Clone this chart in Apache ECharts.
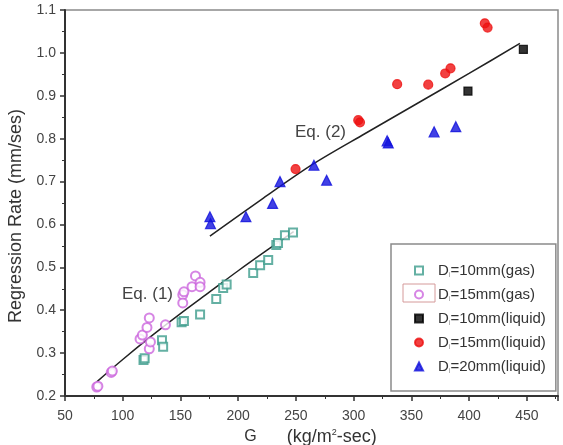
<!DOCTYPE html>
<html>
<head>
<meta charset="utf-8">
<script src="https://cdn.jsdelivr.net/npm/echarts@6/dist/echarts.min.js"></script>
<style>
html, body { margin: 0; padding: 0; background: #fff; }
#chart { width: 563px; height: 445px; }
</style>
</head>
<body>
<div id="chart"></div>
<script>
// readings taken off the figure: [G, regression rate]
var gas10 = [[118, 0.284], [119, 0.288], [134, 0.33], [135, 0.315], [151, 0.372], [153, 0.375],
    [167, 0.39], [181, 0.426], [187, 0.452], [190, 0.46], [213, 0.487], [219, 0.505], [226, 0.517],
    [233, 0.552], [234.5, 0.557], [240.5, 0.575], [247.5, 0.581]]
var gas15 = [[77.5, 0.221], [78.5, 0.223], [90, 0.255], [91, 0.258], [115, 0.333], [117, 0.342],
    [121, 0.36], [123, 0.382], [123, 0.31], [124, 0.326], [137, 0.366], [152, 0.436], [152, 0.417],
    [153, 0.443], [160, 0.455], [163, 0.48], [167, 0.465], [167, 0.455]]
var liq10 = [[399, 0.911], [447, 1.008]]
var liq15 = [[249.7, 0.729], [304, 0.843], [305.5, 0.838], [337.7, 0.927], [364.6, 0.926],
    [379.3, 0.952], [383.9, 0.964], [413.6, 1.069], [416, 1.059]]
var liq20 = [[175.5, 0.618], [176, 0.602], [206.7, 0.618], [229.8, 0.649], [236.2, 0.70],
    [265.6, 0.738], [276.6, 0.703], [329, 0.795], [330, 0.79], [369.7, 0.816], [388.5, 0.828]]
// fitted curves Eq. (1) and Eq. (2)
var eq1 = [[77.5, 0.233], [100, 0.285], [125, 0.34], [150, 0.392], [175, 0.442], [200, 0.492], [225, 0.54], [248, 0.583]]
var eq2 = [[175.5, 0.573], [220, 0.658], [265, 0.741], [310, 0.812], [355, 0.882], [400, 0.952], [444, 1.022]]
var legendNames = ['10mm(gas)', '15mm(gas)', '10mm(liquid)', '15mm(liquid)', '20mm(liquid)']

var chart = echarts.init(document.getElementById('chart'))
var font = 'Liberation Sans, Arial, sans-serif'

function scatter(name, data, symbol, size, color) {
    return {
        name: name, type: 'scatter', data: data,
        symbol: symbol, symbolSize: size,
        itemStyle: { color: color, borderColor: color, borderWidth: 1.2 },
        z: 3
    }
}
function fitLine(data) {
    return {
        type: 'line', data: data, smooth: 0.3, symbol: 'none',
        lineStyle: { color: '#222', width: 1.5 }, z: 2, silent: true
    }
}

chart.setOption({
    animation: false,
    textStyle: { fontFamily: font },
    grid: {
        left: 65, top: 10, right: 5, bottom: 49, outerBoundsMode: 'none',
        show: true, borderColor: '#8a8a8a', borderWidth: 1.5
    },
    xAxis: {
        type: 'value', min: 50, max: 477, interval: 50,
        name: '{g|G}{sub| }{u|(kg/m}{sup|2}{u|-sec)}',
        nameLocation: 'middle', nameGap: 30,
        nameTextStyle: {
            rich: {
                g: { fontSize: 16, color: '#333', fontFamily: font },
                sub: { fontSize: 9, width: 30 },
                u: { fontSize: 18, color: '#333', fontFamily: font },
                sup: { fontSize: 9, color: '#333', padding: [0, 0, 9, 0] }
            },
            padding: [0, 2, 0, 0]
        },
        axisLine: { lineStyle: { color: '#333', width: 2 } },
        axisTick: { inside: false, length: 5, lineStyle: { color: '#333', width: 1.5 } },
        minorTick: { show: true, splitNumber: 2, length: 3, lineStyle: { color: '#333' } },
        splitLine: { show: false },
        axisLabel: { color: '#444', fontSize: 14, margin: 13, showMaxLabel: false }
    },
    yAxis: {
        type: 'value', min: 0.2, max: 1.1, interval: 0.1,
        name: 'Regression Rate (mm/ses)',
        nameLocation: 'middle', nameGap: 40,
        nameTextStyle: { fontSize: 18, color: '#333', padding: [0, 26, 0, 0] },
        axisLine: { lineStyle: { color: '#333', width: 2 } },
        axisTick: { inside: false, length: 5, lineStyle: { color: '#333', width: 1.5 } },
        minorTick: { show: true, splitNumber: 2, length: 3, lineStyle: { color: '#333' } },
        splitLine: { show: false },
        axisLabel: {
            color: '#444', fontSize: 14, margin: 9,
            formatter: function (v) { return v.toFixed(1) }
        }
    },
    legend: {
        orient: 'vertical', left: 391, top: 244,
        padding: [19, 10, 16, 23],
        borderColor: '#8a8a8a', borderWidth: 1.5,
        itemWidth: 8, itemHeight: 8, itemGap: 8,
        data: legendNames,
        formatter: function (n) { return '{a|D}{s|i}{a|=' + n + '}' },
        textStyle: {
            padding: [0, 0, 0, 10],
            rich: {
                a: { fontSize: 15, color: '#333', fontFamily: font },
                s: { fontSize: 7, color: '#888', padding: [10, 0, 0, 0] }
            }
        }
    },
    graphic: [
        { type: 'rect', shape: { x: 403, y: 284, width: 32, height: 18 },
          style: { fill: 'none', stroke: '#d59a9a', lineWidth: 1 } },
        { type: 'text', x: 122, y: 286, style: { text: 'Eq. (1)', fontSize: 17, fill: '#444', fontFamily: font } },
        { type: 'text', x: 295, y: 124, style: { text: 'Eq. (2)', fontSize: 17, fill: '#444', fontFamily: font } }
    ],
    series: [
        fitLine(eq1),
        fitLine(eq2),
        scatter(legendNames[0], gas10, 'emptyRect', 8, '#3d9c8c'),
        scatter(legendNames[1], gas15, 'emptyCircle', 9, '#cc66dd'),
        scatter(legendNames[2], liq10, 'rect', 8, '#000'),
        scatter(legendNames[3], liq15, 'circle', 9, '#ee1111'),
        scatter(legendNames[4], liq20, 'triangle', 10, '#1111dd')
    ]
})
</script>
</body>
</html>
